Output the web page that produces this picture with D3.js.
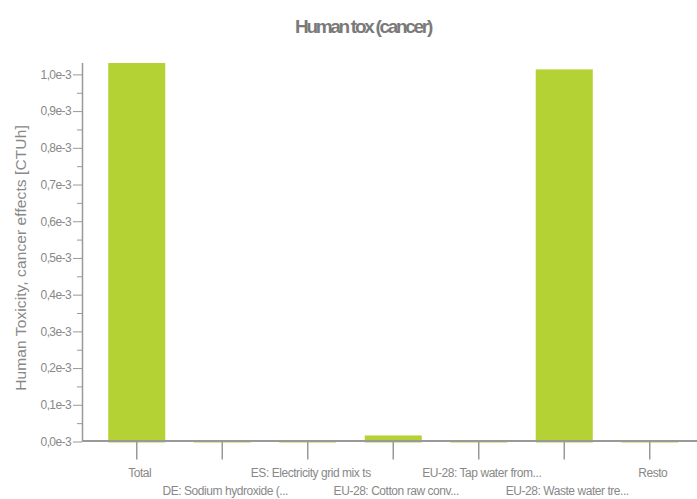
<!DOCTYPE html>
<html>
<head>
<meta charset="utf-8">
<script src="https://cdn.jsdelivr.net/npm/d3@7"></script>
<style>
  html, body { margin: 0; padding: 0; background: #fff; }
  svg { display: block; }
  text { font-family: "Liberation Sans", Arial, sans-serif; }
</style>
</head>
<body>
<svg id="chart" width="697" height="499"></svg>
<script>
const categories = [
  "Total",
  "DE: Sodium hydroxide (...",
  "ES: Electricity grid mix ts",
  "EU-28: Cotton raw conv...",
  "EU-28: Tap water from...",
  "EU-28: Waste water tre...",
  "Resto"
];
const values = [1.031e-3, 2e-6, 2e-6, 1.65e-5, 2e-6, 1.0136e-3, 2e-6];
const yTickValues = [0, 0.1e-3, 0.2e-3, 0.3e-3, 0.4e-3, 0.5e-3, 0.6e-3, 0.7e-3, 0.8e-3, 0.9e-3, 1.0e-3];
const yMinorTickValues = [0.05e-3, 0.15e-3, 0.25e-3, 0.35e-3, 0.45e-3, 0.55e-3, 0.65e-3, 0.75e-3, 0.85e-3, 0.95e-3];
const titleText = "Human tox (cancer)";
const yAxisTitle = "Human Toxicity, cancer effects [CTUh]";

const svg = d3.select("#chart");
const barColor = "#b4d234";
const axisColor = "#999";
const textColor = "#888";

const y = d3.scaleLinear().domain([0, d3.max(values)]).range([441.5, 63]);
const x = d3.scaleBand().domain(categories).range([94, 692.5])
  .paddingInner(0.333).paddingOuter(0.1665);

// title
svg.append("text")
  .attr("x", 363).attr("y", 32.5)
  .attr("text-anchor", "middle")
  .attr("font-size", 19).attr("font-weight", "bold")
  .attr("letter-spacing", "-2.3px")
  .attr("fill", "#7a7a7a")
  .text(titleText);

// y axis title
svg.append("text")
  .attr("transform", "translate(26,258) rotate(-90)")
  .attr("text-anchor", "middle")
  .attr("font-size", 15.5)
  .attr("letter-spacing", "0.1px")
  .attr("fill", textColor)
  .text(yAxisTitle);

// bars
svg.append("g").selectAll("rect")
  .data(values)
  .join("rect")
  .attr("x", (d, i) => x(categories[i]))
  .attr("width", x.bandwidth())
  .attr("y", d => Math.min(y(d), y(0) - 1.5))
  .attr("height", d => y(0) - Math.min(y(d), y(0) - 1.5) + 1)
  .attr("fill", barColor);

// y axis (major)
const yAxis = d3.axisLeft(y).tickValues(yTickValues).tickSize(9).tickPadding(2)
  .tickFormat(d => (d * 1e3).toFixed(1).replace(".", ",") + "e-3");
const gy = svg.append("g").attr("transform", "translate(82,0)").call(yAxis);
gy.select(".domain").remove();
gy.selectAll(".tick line").attr("stroke", axisColor);
gy.selectAll(".tick text")
  .attr("font-size", 12).attr("letter-spacing", "-0.6px")
  .attr("fill", textColor).attr("font-family", "Liberation Sans, Arial, sans-serif");

// y axis (minor)
const yMinor = d3.axisLeft(y).tickValues(yMinorTickValues).tickSize(5).tickFormat("");
const gym = svg.append("g").attr("transform", "translate(82,0)").call(yMinor);
gym.select(".domain").remove();
gym.selectAll(".tick line").attr("stroke", axisColor);

// y axis line
svg.append("line")
  .attr("x1", 82.5).attr("x2", 82.5)
  .attr("y1", y(d3.max(values))).attr("y2", y(0))
  .attr("stroke", axisColor).attr("stroke-width", 1.5);

// x axis
const xAxis = d3.axisBottom(x).tickSize(18).tickPadding(0).tickFormat("");
const gx = svg.append("g").attr("transform", `translate(0,${y(0)})`).call(xAxis);
gx.select(".domain").remove();
gx.selectAll(".tick line").attr("stroke", axisColor).attr("stroke-width", 1.5);

// baseline
svg.append("line")
  .attr("x1", 82).attr("x2", 697)
  .attr("y1", y(0) - 0.5).attr("y2", y(0) - 0.5)
  .attr("stroke", axisColor).attr("stroke-width", 2);

// x labels, staggered
svg.append("g").selectAll("text")
  .data(categories)
  .join("text")
  .attr("x", d => x(d) + x.bandwidth() / 2 + 3)
  .attr("y", (d, i) => i % 2 === 0 ? 477 : 494.5)
  .attr("text-anchor", "middle")
  .attr("font-size", 12)
  .attr("letter-spacing", "-0.45px")
  .attr("fill", textColor)
  .text(d => d);
</script>
</body>
</html>
